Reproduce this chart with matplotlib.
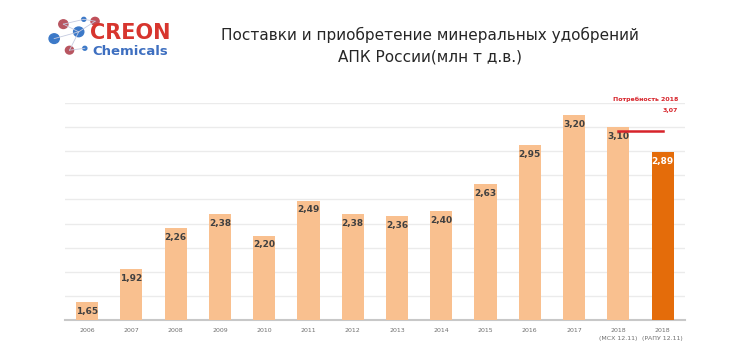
import matplotlib
matplotlib.use("Agg")
import matplotlib.pyplot as plt
from matplotlib.patches import Circle

years = ["2006", "2007", "2008", "2009", "2010", "2011", "2012", "2013", "2014",
         "2015", "2016", "2017", "2018\n(МСХ 12.11)", "2018\n(РАПУ 12.11)"]
values = [1.65, 1.92, 2.26, 2.38, 2.20, 2.49, 2.38, 2.36, 2.40, 2.63, 2.95, 3.20, 3.10, 2.89]
labels = ["1,65", "1,92", "2,26", "2,38", "2,20", "2,49", "2,38", "2,36", "2,40",
          "2,63", "2,95", "3,20", "3,10", "2,89"]
need_value = 3.07
need_label = "3,07"

fig = plt.figure(figsize=(7.3, 3.51), dpi=100)
ax = fig.add_axes([0.089, 0.088, 0.849, 0.619])

n = len(values)
x = list(range(n))
colors = ["#F9C08F"] * (n - 1) + ["#E46C0A"]
ax.bar(x, values, width=0.5, color=colors, zorder=3)

for i, (v, l) in enumerate(zip(values, labels)):
    c = "white" if i == n - 1 else "#404040"
    ax.text(i, v - 0.04, l, ha="center", va="top", fontsize=6.5, fontweight="bold",
            color=c, zorder=4)

ax.set_ylim(1.5, 3.3)
ax.set_xlim(-0.5, n - 0.5)
ax.set_yticks([1.7, 1.9, 2.1, 2.3, 2.5, 2.7, 2.9, 3.1, 3.3])
ax.yaxis.grid(True, color="#EBEBEB", linewidth=1, zorder=0)
ax.tick_params(axis="y", length=0, labelleft=False)
ax.set_xticks(x)
ax.set_xticklabels(years, fontsize=4.5, color="#707070", linespacing=1.6)
ax.tick_params(axis="x", length=0, pad=6)
for s in ["top", "right", "left"]:
    ax.spines[s].set_visible(False)
ax.spines["bottom"].set_color("#C8C8C8")
ax.spines["bottom"].set_linewidth(1.5)

# consumption need line
ax.plot([n - 2, n - 1], [need_value, need_value], color="#D7232A", linewidth=1.8,
        zorder=5, clip_on=False)
ax.text(n - 0.65, 3.325, "Потребность 2018", ha="right", va="center", fontsize=4.5,
        fontweight="bold", color="#D7232A", clip_on=False)
ax.text(n - 0.65, 3.235, need_label, ha="right", va="center", fontsize=4.5,
        fontweight="bold", color="#D7232A", clip_on=False)

fig.text(0.589, 0.9, "Поставки и приобретение минеральных удобрений",
         ha="center", va="center", fontsize=11, color="#262626")
fig.text(0.589, 0.838, "АПК России(млн т д.в.)",
         ha="center", va="center", fontsize=11, color="#262626")

# logo
lax = fig.add_axes([0.0, 0.78, 0.28, 0.22])
lax.set_xlim(0, 200)
lax.set_ylim(80, 0)
lax.axis("off")
pts = [(53, 40), (62, 25), (77, 33), (93, 22), (68, 52), (83, 50), (82, 20)]
for a, b in [(0, 2), (1, 2), (2, 3), (2, 4), (4, 5), (1, 6), (6, 3)]:
    lax.plot([pts[a][0], pts[b][0]], [pts[a][1], pts[b][1]], color="#C5CBE0", lw=0.6)
for (px, py), r, c in zip(pts, [5, 4.5, 5, 4, 4, 2, 2],
                           ["#3C79C8", "#B85560", "#3C79C8", "#C0505A", "#B85560",
                            "#3C79C8", "#3C79C8"]):
    lax.add_patch(Circle((px, py), r, color=c))
lax.text(88, 34, "CREON", fontsize=15, fontweight="bold", color="#D7352E",
         va="center", ha="left")
lax.text(90, 53, "Chemicals", fontsize=9.5, fontweight="bold", color="#3E6FC0",
         va="center", ha="left")

fig.savefig("out.png", dpi=100)
